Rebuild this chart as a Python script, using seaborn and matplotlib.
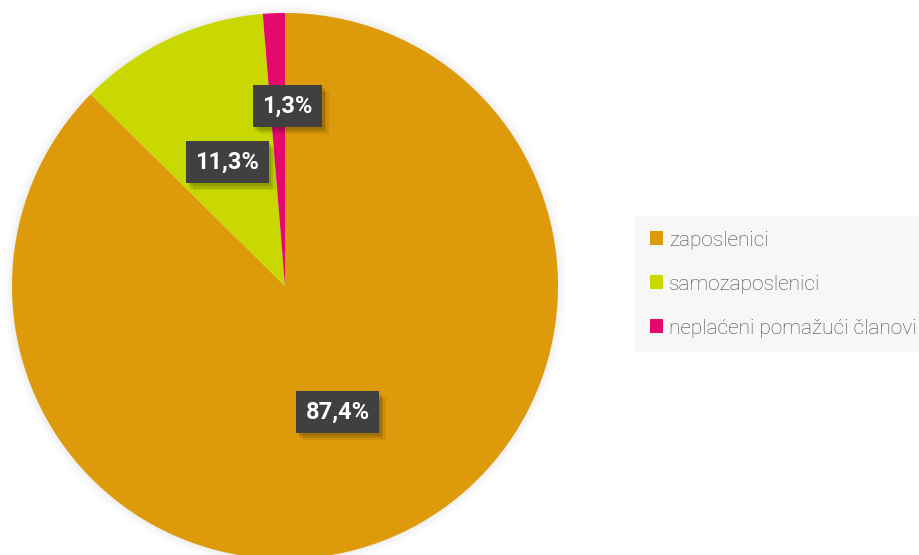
import numpy as np
import matplotlib
matplotlib.use("Agg")
import matplotlib.pyplot as plt
import matplotlib.patheffects as pe
from matplotlib.patches import Patch
import seaborn as sns

categories = ["zaposlenici", "samozaposlenici", "neplaćeni pomažući članovi"]
values = [87.4, 11.3, 1.3]
labels = ["87,4%", "11,3%", "1,3%"]
colors = ["#DD9A0A", "#C8D800", "#E5096E"]

sns.set_theme(style="white")
plt.rcParams['font.family'] = ['Roboto', 'DejaVu Sans']

fig = plt.figure(figsize=(9.19, 5.55), dpi=100)
W, H = 919, 555
cx, cy, r = 285, 286, 273
ax = fig.add_axes([(cx - r) / W, (H - cy - r) / H, 2 * r / W, 2 * r / H])
ax.axis('off')

wedges, _ = ax.pie(values, colors=colors, startangle=90, counterclock=False,
                   wedgeprops=dict(linewidth=0), radius=1)
ax.set_xlim(-1, 1)
ax.set_ylim(-1, 1)
ax.set_aspect('equal')
for w in wedges:
    w.set_clip_on(False)

# soft glow around pie
for i, a in enumerate(np.linspace(0.03, 0.005, 6)):
    c = plt.Circle((0, 0), 1 + 0.006 * (i + 1), color='#888888', alpha=a, lw=0,
                   zorder=0, clip_on=False)
    ax.add_patch(c)

total = sum(values)
cum = 0
for v, lab, w in zip(values, labels, wedges):
    mid = 90 - (cum + v / 2) / total * 360
    cum += v
    dist = 0.5 if v > 5 else 0.66
    ang = np.deg2rad(mid)
    x, y = dist * np.cos(ang), dist * np.sin(ang)
    if v <= 5:
        x += 0.035
    t = ax.text(x, y, lab, ha='center', va='center', color='white',
                fontsize=17, fontweight='bold', zorder=5,
                bbox=dict(boxstyle='square,pad=0.4', facecolor='#404040',
                          edgecolor='none', linewidth=0))
    t.get_bbox_patch().set_path_effects([
        pe.SimplePatchShadow(offset=(2, -2), alpha=0.12, shadow_rgbFace='black'),
        pe.SimplePatchShadow(offset=(3, -4), alpha=0.10, shadow_rgbFace='black'),
        pe.SimplePatchShadow(offset=(5, -5), alpha=0.07, shadow_rgbFace='black'),
        pe.Normal()])

handles = [Patch(facecolor=c, edgecolor='none') for c in colors]
leg = fig.legend(handles, categories, loc='center left',
                 bbox_to_anchor=(635 / W, 1 - 284 / H),
                 frameon=True, fancybox=False, facecolor='#f7f7f7',
                 edgecolor='none', framealpha=1, fontsize=15,
                 handlelength=0.65, handleheight=0.65, handletextpad=0.3,
                 labelspacing=1.2, borderpad=0.7, borderaxespad=0)
for txt in leg.get_texts():
    txt.set_color('#444444')
    txt.set_fontweight('light')

fig.savefig('out.png', dpi=100)
